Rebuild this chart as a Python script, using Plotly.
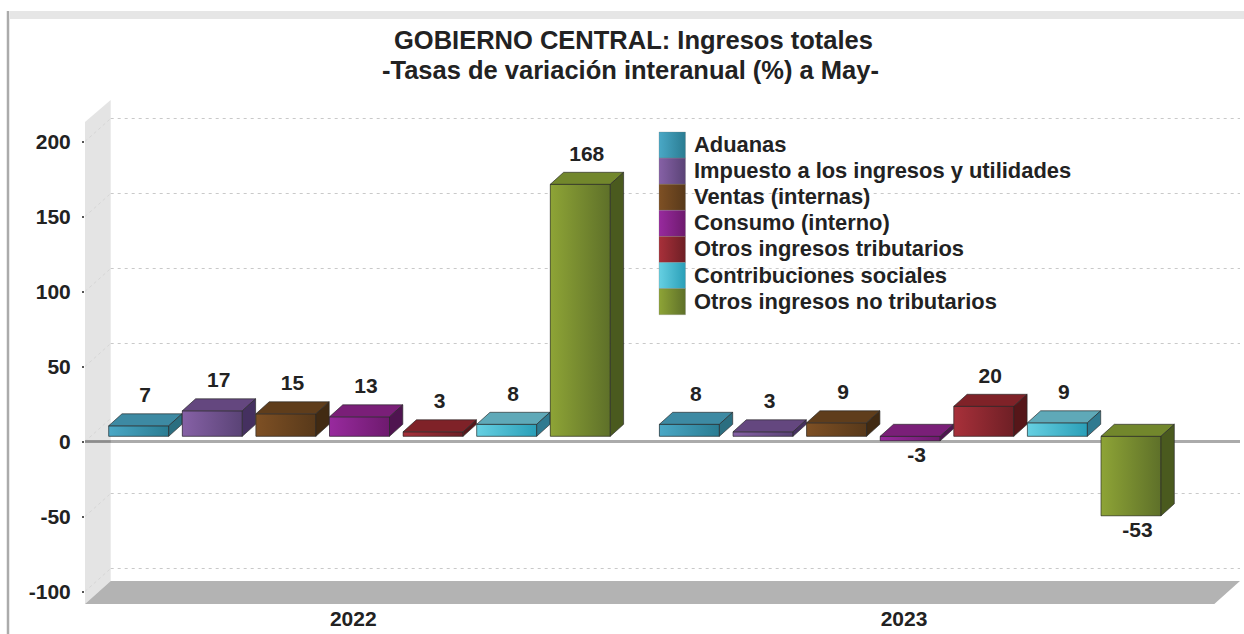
import plotly.graph_objects as go

# ---------- data ----------
years = ["2022", "2023"]
series = ["Aduanas", "Impuesto a los ingresos y utilidades", "Ventas (internas)", "Consumo (interno)",
          "Otros ingresos tributarios", "Contribuciones sociales", "Otros ingresos no tributarios"]
values_2022 = [7, 17, 15, 13, 3, 8, 168]
values_2023 = [8, 3, 9, -3, 20, 9, -53]
y_ticks = [200, 150, 100, 50, 0, -50, -100]
title_lines = ["GOBIERNO CENTRAL: Ingresos totales", "-Tasas de variación interanual (%) a May-"]

front_left = ["#4aa8c6", "#8661a6", "#7e5024", "#982a9e", "#a8303a", "#66d0e2", "#8ea436"]
front_right = ["#2a7c92", "#5a4376", "#58391a", "#6e1a6e", "#6e1f25", "#2a9fb8", "#5e7029"]
top_col = ["#3d8aa3", "#64477f", "#5f3d1b", "#7a1f78", "#7f2228", "#5fa9b8", "#72872c"]
side_col = ["#2b6e80", "#453060", "#412a12", "#4f1450", "#561619", "#2f7a90", "#4a5a1e"]

# ---------- scale / layout constants (pixels of the 1244x634 page) ----------
W, H = 1244, 634
L, R, T, B = 85, 1240, 90, 606      # plot box
ZERO_PX, UNIT_PX = 441.5, 1.5       # y scale
TICK0_PX, GROUP_PX = 353.3, 550.7   # x scale
GROUP_SHIFT, PITCH, BAR_W = 6.2, 73.6, 60.0
DX, DY = 13.3, 12.0                 # depth of bars
WALL_DX, WALL_DY = 25.7, 23.0       # depth of chart box
BASE_PX = 436.3                     # bars' front baseline
TITLE_POS = [(633, 40), (630, 70)]  # centre of each title line

def X(p):
    return (p - TICK0_PX) / GROUP_PX

def Y(p):
    return (ZERO_PX - p) / UNIT_PX

def PX(p):
    return (p - L) / (R - L)

def PY(p):
    return (B - p) / (B - T)

def bold(s):
    return f"<b>{s}</b>"

INK = "#222222"
FONT = "Liberation Sans"
EDGE = "rgba(40,40,40,0.65)"

fig = go.Figure()
base_val = Y(BASE_PX)
dx_u, dy_u, w_u = DX / GROUP_PX, DY / UNIT_PX, BAR_W / GROUP_PX

def poly(xs, ys, **kw):
    fig.add_trace(go.Scatter(x=xs + xs[:1], y=ys + ys[:1], mode="lines", fill="toself",
                             hoverinfo="skip", showlegend=False, **kw))

# darker part of the zero line over the side wall
fig.add_trace(go.Scatter(x=[X(L), X(L + WALL_DX)], y=[0, 0], mode="lines", hoverinfo="skip", showlegend=False,
                         line=dict(color="#8c8c8c", width=2.5)))

for i, name in enumerate(series):
    vals = [values_2022[i], values_2023[i]]
    off = (GROUP_SHIFT + (i - 3) * PITCH) / GROUP_PX
    xc = [g + off for g in range(len(years))]
    fig.add_trace(go.Bar(x=xc, y=vals, base=base_val, width=w_u, name=name, showlegend=False,
                         marker=dict(color=front_left[i], line=dict(width=0)), hoverinfo="skip"))
    lab_x, lab_y = [], []
    for x, v in zip(xc, vals):
        x0, x1 = x - w_u / 2, x + w_u / 2
        hi = base_val + max(v, 0)
        lo = base_val + min(v, 0)
        poly([x0, x1, x1, x0], [lo, lo, hi, hi],
             fillgradient=dict(type="horizontal", colorscale=[[0, front_left[i]], [1, front_right[i]]]),
             line=dict(color=EDGE, width=1))
        poly([x0, x1, x1 + dx_u, x0 + dx_u], [hi, hi, hi + dy_u, hi + dy_u],
             fillcolor=top_col[i], line=dict(color=EDGE, width=1))
        poly([x1, x1 + dx_u, x1 + dx_u, x1], [lo, lo + dy_u, hi + dy_u, hi],
             fillcolor=side_col[i], line=dict(color=EDGE, width=1))
        lab_x.append(x + 6.5 / GROUP_PX)
        if v >= 0:
            lab_y.append(hi + dy_u + 17 / UNIT_PX)
        else:
            lab_y.append(lo - 16 / UNIT_PX)
    fig.add_trace(go.Scatter(x=lab_x, y=lab_y, mode="text", text=[bold(v) for v in vals],
                             textposition="middle center", showlegend=False, hoverinfo="skip",
                             textfont=dict(family=FONT, size=21, color=INK)))

# hand-built legend: stacked swatches and labels
LEG_X0, LEG_X1, LEG_Y0, LEG_H, LEG_TX = 659, 685.5, 132, 26.1, 695
for i, name in enumerate(series):
    y0, y1 = LEG_Y0 + i * LEG_H, LEG_Y0 + (i + 1) * LEG_H
    poly([X(LEG_X0), X(LEG_X1), X(LEG_X1), X(LEG_X0)], [Y(y1), Y(y1), Y(y0), Y(y0)],
         fillgradient=dict(type="horizontal", colorscale=[[0, front_left[i]], [1, front_right[i]]]),
         line=dict(color="rgba(120,120,120,0.5)", width=0.5))
    fig.add_annotation(x=X(LEG_TX), y=Y((y0 + y1) / 2 - 0.5), text=bold(name), showarrow=False, xanchor="left",
                       yanchor="middle", xshift=-3, font=dict(family=FONT, size=21.9, color=INK))

for line, (cx, cy) in zip(title_lines, TITLE_POS):
    fig.add_annotation(x=PX(cx), y=PY(cy), xref="paper", yref="paper", text=bold(line), showarrow=False,
                       xanchor="center", yanchor="middle", font=dict(family=FONT, size=25.5, color=INK))

# chart box: wall, floor, gridlines
shapes = [
    dict(type="path", layer="below", line=dict(width=0), fillcolor="#e4e4e4",
         path=f"M{X(L)},{Y(B-2)} L{X(L)},{Y(122)} L{X(L+WALL_DX)},{Y(122-WALL_DY+1)} L{X(L+WALL_DX)},{Y(B-2-WALL_DY)} Z"),
    dict(type="path", layer="below", line=dict(width=0), fillcolor="#b3b3b3",
         path=f"M{X(L)},{Y(B-2)} L{X(L+WALL_DX)},{Y(B-2-WALL_DY)} L{X(R)},{Y(B-2-WALL_DY)} L{X(R-WALL_DX)},{Y(B-2)} Z"),
    dict(type="line", xref="paper", yref="paper", x0=PX(8), x1=PX(8), y0=PY(H), y1=PY(11),
         line=dict(color="#ababab", width=2.5)),
    dict(type="rect", xref="paper", yref="paper", x0=PX(10), x1=PX(W), y0=PY(19), y1=PY(11),
         line=dict(width=0), fillcolor="#e6e6e6"),
]
for t in y_ticks:
    yb = t + WALL_DY / UNIT_PX
    shapes.append(dict(type="line", layer="below", x0=X(L), x1=X(L + WALL_DX), y0=t, y1=yb,
                       line=dict(color="#d6d6d6", width=1, dash="3px,3px")))
    if t != 0:
        shapes.append(dict(type="line", layer="below", x0=X(L + WALL_DX), x1=X(R), y0=yb, y1=yb,
                           line=dict(color="#c9c9c9", width=1, dash="3px,4px")))

fig.update_layout(
    width=W, height=H, autosize=False, paper_bgcolor="white", plot_bgcolor="white",
    margin=dict(l=L, r=W - R, t=T, b=H - B, pad=0), showlegend=False, shapes=shapes, barmode="overlay",
    font=dict(family=FONT, color=INK),
    xaxis=dict(range=[X(L), X(R)], tickmode="array", tickvals=list(range(len(years))), ticktext=[bold(s) for s in years],
               showgrid=False, zeroline=False, showline=False, ticks="", ticklabelstandoff=-2, automargin=False,
               tickfont=dict(family=FONT, size=21, color=INK)),
    yaxis=dict(range=[Y(B), Y(T)], tickmode="array", tickvals=y_ticks, ticktext=[bold(t) for t in y_ticks],
               showgrid=False, zeroline=True, zerolinecolor="#ababab", zerolinewidth=2.5, showline=False, automargin=False,
               ticks="outside", ticklen=2, tickwidth=2, tickcolor="#555555", ticklabelstandoff=7,
               tickfont=dict(family=FONT, size=21, color=INK)),
)
fig.write_html("out.html", config=dict(displayModeBar=False),
               post_script="document.body.style.margin='0';")
